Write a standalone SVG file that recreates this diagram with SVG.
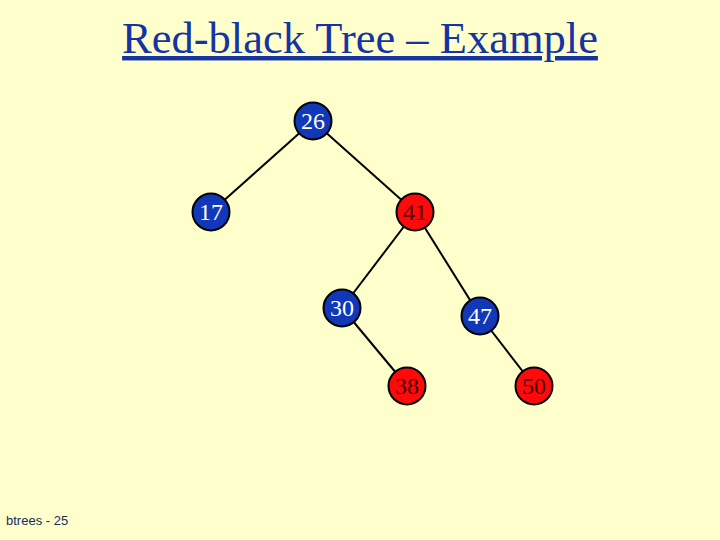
<svg xmlns="http://www.w3.org/2000/svg" width="720" height="540" viewBox="0 0 720 540">
<style>
.bg{fill:#FFFFCC}
.title{font-family:"Liberation Serif","Times New Roman",serif;font-size:44.5px;fill:#1434A4;text-decoration:underline}
.foot{font-family:"Liberation Sans",Arial,sans-serif;font-size:13px;fill:#1A2A5A}
.edge{stroke:#000;stroke-width:2;fill:none}
.blk circle{fill:#1038B8;stroke:#000;stroke-width:2}
.red circle{fill:#FF0A0A;stroke:#000;stroke-width:2}
.lbl{font-family:"Liberation Serif","Times New Roman",serif;font-size:24px;text-anchor:middle}
.blk text{fill:#FFFFFF}
.red text{fill:#4A0000}
</style>
<rect class="bg" x="0" y="0" width="720" height="540"/>
<text class="title" x="360" y="53" text-anchor="middle">Red-black Tree – Example</text>
<g id="edges">
<line class="edge" x1="313" y1="121" x2="211" y2="212"/>
<line class="edge" x1="313" y1="121" x2="415" y2="212"/>
<line class="edge" x1="415" y1="212" x2="342" y2="308"/>
<line class="edge" x1="415" y1="212" x2="480" y2="316"/>
<line class="edge" x1="342" y1="308" x2="407" y2="386"/>
<line class="edge" x1="480" y1="316" x2="534" y2="386"/>
</g>
<g id="n26" class="blk"><circle cx="313" cy="121" r="18.5"/><text class="lbl" x="313" y="129">26</text></g>
<g id="n17" class="blk"><circle cx="211" cy="212" r="18.5"/><text class="lbl" x="211" y="220">17</text></g>
<g id="n41" class="red"><circle cx="415" cy="212" r="18.5"/><text class="lbl" x="415" y="220">41</text></g>
<g id="n30" class="blk"><circle cx="342" cy="308" r="18.5"/><text class="lbl" x="342" y="316">30</text></g>
<g id="n47" class="blk"><circle cx="480" cy="316" r="18.5"/><text class="lbl" x="480" y="324">47</text></g>
<g id="n38" class="red"><circle cx="407" cy="386" r="18.5"/><text class="lbl" x="407" y="394">38</text></g>
<g id="n50" class="red"><circle cx="534" cy="386" r="18.5"/><text class="lbl" x="534" y="394">50</text></g>
<text class="foot" x="6" y="525">btrees - 25</text>
</svg>
